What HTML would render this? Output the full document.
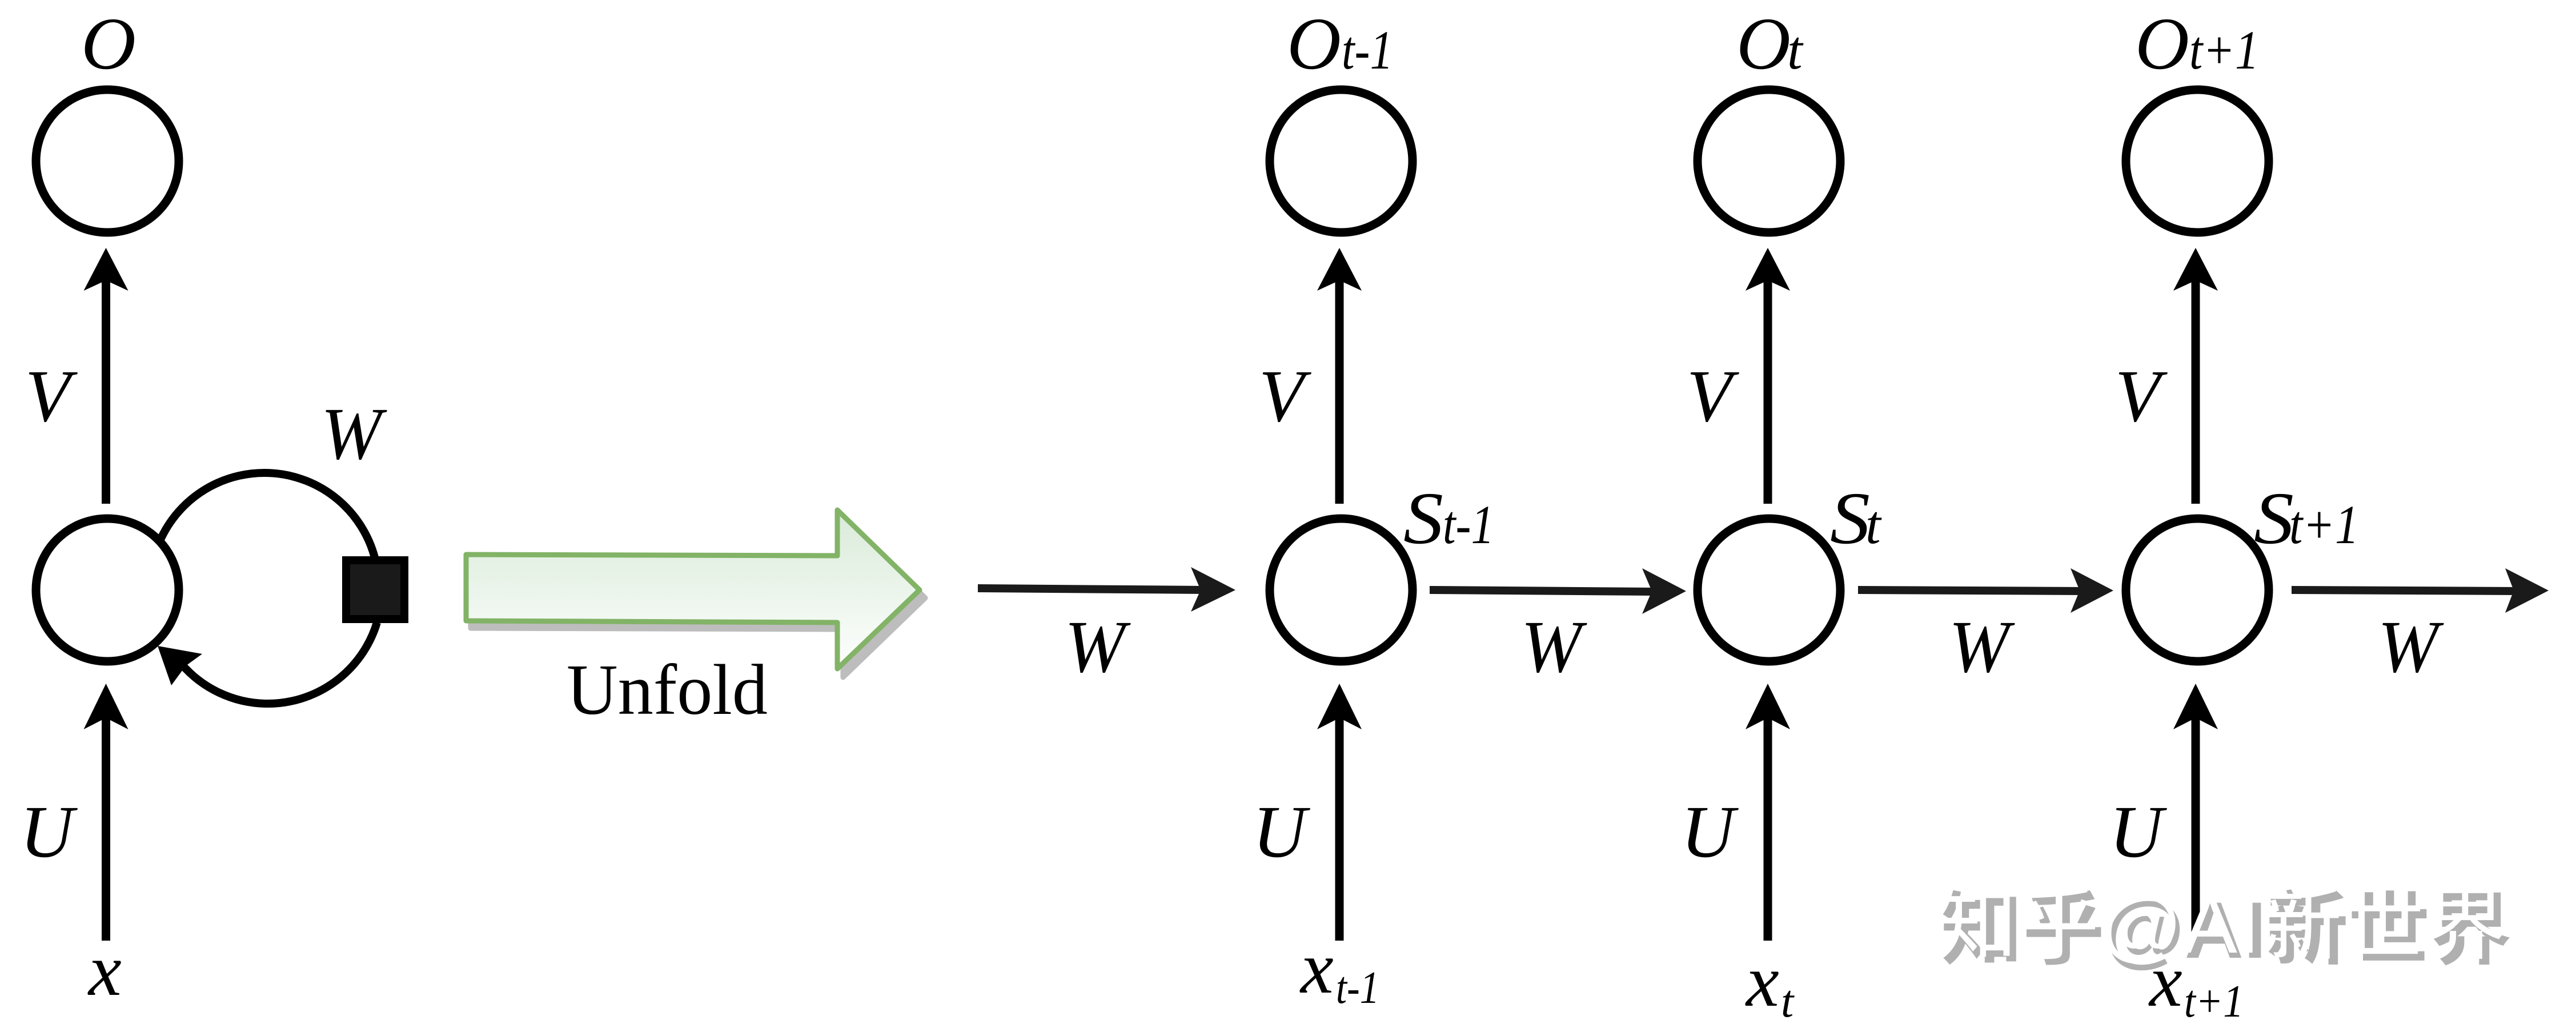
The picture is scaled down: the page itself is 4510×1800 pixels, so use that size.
<!DOCTYPE html>
<html><head><meta charset="utf-8"><style>
html,body{margin:0;padding:0;background:#fff;width:4510px;height:1800px;overflow:hidden}
svg{display:block}
text{font-family:"Liberation Serif","Noto Serif CJK SC",serif;font-style:italic;fill:#000}
.m{font-size:130px}.s{font-size:96px}.b{font-size:80px}
.wm{font-family:"Liberation Sans","Noto Sans CJK SC",sans-serif;font-style:normal;font-size:140px;font-weight:700}
</style></head><body>
<svg width="4510" height="1800" viewBox="0 0 4510 1800" xmlns="http://www.w3.org/2000/svg">
<defs>
<linearGradient id="g" x1="0" y1="0" x2="0" y2="1"><stop offset="0" stop-color="#d9ebd9"/><stop offset="1" stop-color="#fdfefd"/></linearGradient>
</defs>
<rect width="4510" height="1800" fill="#fff"/>

<!-- circles -->
<g fill="#fff" stroke="#000" stroke-width="15">
<circle cx="188" cy="282" r="125"/><circle cx="188" cy="1033" r="125"/>
<circle cx="2348" cy="282" r="125"/><circle cx="2348" cy="1033" r="125"/>
<circle cx="3097" cy="282" r="125"/><circle cx="3097" cy="1033" r="125"/>
<circle cx="3847" cy="282" r="125"/><circle cx="3847" cy="1033" r="125"/>
</g>

<!-- vertical arrows -->
<g fill="#000">
<path d="M178 882V480h15v402zM185.500 434l39 75-39-18-39 18z"/>
<path d="M178 1647V1245h15v402zM185.500 1197l39 80-39-20-39 20z"/>
<path d="M2337.500 882V480h15v402zM2345 434l39 75-39-18-39 18z"/>
<path d="M2337.500 1647V1245h15v402zM2345 1197l39 80-39-20-39 20z"/>
<path d="M3087.500 882V480h15v402zM3095 434l39 75-39-18-39 18z"/>
<path d="M3087.500 1647V1245h15v402zM3095 1197l39 80-39-20-39 20z"/>
<path d="M3836.500 882V480h15v402zM3844 434l39 75-39-18-39 18z"/>
<path d="M3836.500 1647V1245h15v402zM3844 1197l39 80-39-20-39 20z"/>
</g>

<!-- horizontal arrows -->
<g fill="#1a1a1a">
<path d="M1712 1023L2110 1026V1040L1712 1037z"/><path d="M2163 1033L2085 993L2102 1033L2085 1071z"/>
<path d="M2503 1026L2900 1029V1043L2503 1040z"/><path d="M2952 1035L2875 995L2892 1035L2875 1075z"/>
<path d="M3253 1026L3650 1028V1042L3253 1040z"/><path d="M3700 1034L3625 995L3641 1034L3625 1073z"/>
<path d="M4012 1026L4410 1028V1042L4012 1040z"/><path d="M4462 1034L4386 995L4401 1034L4386 1073z"/>
</g>

<!-- self loop -->
<g fill="none" stroke="#000" stroke-width="14">
<path d="M280 947A200 200 0 0 1 656 976"/>
<path d="M660 1090A200 200 0 0 1 464 1232A200 200 0 0 1 318 1163"/>
</g>
<path d="M276 1131L354 1145L325 1166L300 1200z" fill="#000"/>
<rect x="606" y="981" width="102" height="103" fill="#1a1a1a" stroke="#000" stroke-width="14"/>

<!-- unfold arrow -->
<path d="M824 982L1476 985V905L1620 1047L1476 1186V1102L824 1100z" fill="#bdbdbd" stroke="#bdbdbd" stroke-width="9" stroke-linejoin="round"/>
<path d="M816 971L1466 973V893L1610 1033L1466 1171V1090L816 1087z" fill="url(#g)" stroke="#82b366" stroke-width="9" stroke-linejoin="round"/>
<text x="992" y="1250" style="font-style:normal" font-size="126" textLength="352" lengthAdjust="spacingAndGlyphs">Unfold</text>

<!-- left column labels -->
<text class="m" x="142" y="120" textLength="96" lengthAdjust="spacingAndGlyphs">O</text>
<text class="m" x="44" y="737">V</text>
<text class="m" x="562" y="803" textLength="106" lengthAdjust="spacingAndGlyphs">W</text>
<text class="m" x="35" y="1500">U</text>
<text class="m" x="155" y="1742">x</text>

<!-- col 1 -->
<text class="m" x="2253" y="120" textLength="95" lengthAdjust="spacingAndGlyphs">O</text>
<text class="s" x="2349" y="120" textLength="90" lengthAdjust="spacingAndGlyphs">t-1</text>
<text class="m" x="2204" y="737">V</text>
<text class="m" x="2193" y="1500">U</text>
<text class="m" x="1864" y="1176" textLength="106" lengthAdjust="spacingAndGlyphs">W</text>
<text class="m" x="2457" y="951" textLength="70" lengthAdjust="spacingAndGlyphs">S</text>
<text class="s" x="2526" y="951" textLength="90" lengthAdjust="spacingAndGlyphs">t-1</text>
<text class="m" x="2277" y="1738">x</text>
<text class="b" x="2339" y="1756" textLength="76" lengthAdjust="spacingAndGlyphs">t-1</text>

<!-- col 2 -->
<text class="m" x="3040" y="120" textLength="95" lengthAdjust="spacingAndGlyphs">O</text>
<text class="s" x="3129" y="120">t</text>
<text class="m" x="2953" y="737">V</text>
<text class="m" x="2943" y="1500">U</text>
<text class="m" x="2663" y="1176" textLength="106" lengthAdjust="spacingAndGlyphs">W</text>
<text class="m" x="3204" y="951" textLength="70" lengthAdjust="spacingAndGlyphs">S</text>
<text class="s" x="3266" y="951">t</text>
<text class="m" x="3057" y="1761">x</text>
<text class="b" x="3118" y="1780">t</text>

<!-- col 3 -->
<text class="m" x="3738" y="120" textLength="95" lengthAdjust="spacingAndGlyphs">O</text>
<text class="s" x="3833" y="120" textLength="122" lengthAdjust="spacingAndGlyphs">t+1</text>
<text class="m" x="3703" y="737">V</text>
<text class="m" x="3693" y="1500">U</text>
<text class="m" x="3412" y="1176" textLength="106" lengthAdjust="spacingAndGlyphs">W</text>
<text class="m" x="4163" y="1176" textLength="106" lengthAdjust="spacingAndGlyphs">W</text>
<text class="m" x="3946" y="951" textLength="70" lengthAdjust="spacingAndGlyphs">S</text>
<text class="s" x="4008" y="951" textLength="122" lengthAdjust="spacingAndGlyphs">t+1</text>
<text class="m" x="3763" y="1761">x</text>
<text class="b" x="3824" y="1780" textLength="104" lengthAdjust="spacingAndGlyphs">t+1</text>

<!-- watermark -->
<text class="wm" x="3398" y="1677" textLength="1000" lengthAdjust="spacingAndGlyphs" style="fill:#b0b0b0">知乎@AI新世界</text>
<text class="wm" x="3388" y="1668" textLength="1000" lengthAdjust="spacingAndGlyphs" style="fill:#fff;font-weight:400">知乎@AI新世界</text>
</svg>
</body></html>
